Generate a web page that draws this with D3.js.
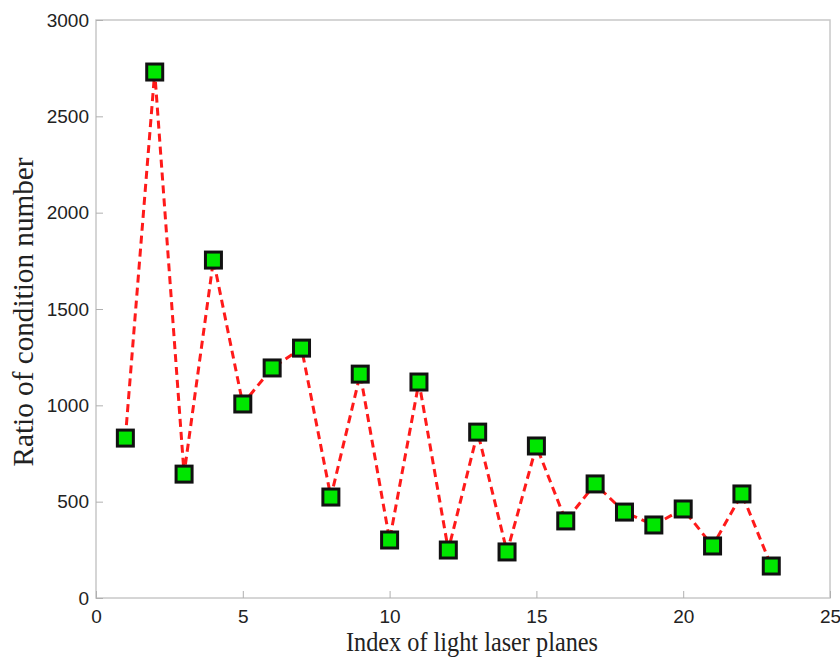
<!DOCTYPE html>
<html>
<head>
  <title>Ratio of condition number</title>
</head>
<style>
  body {
    margin: 0;
    background: white;
  }
  .tick text {
    font-family: "Liberation Sans", Arial, sans-serif;
    font-size: 19px;
    fill: #222;
  }
  .title {
    font-family: "Liberation Serif", "Times New Roman", serif;
    fill: #222;
  }
</style>
<body>
  <script src="https://d3js.org/d3.v7.min.js"></script>
  <script>
    // plane index vs ratio
    const planes = d3.range(1, 24);
    const ratio = [830, 2730, 643, 1754, 1007, 1194, 1297, 524, 1162, 301,
                   1121, 249, 861, 239, 789, 400, 592, 446, 379, 462, 270, 540, 166];
    const xTicks = [0, 5, 10, 15, 20, 25];
    const yTicks = [0, 500, 1000, 1500, 2000, 2500, 3000];

    const w = 840;
    const h = 660;
    const mLeft = 96, mRight = 830, mTop = 20, mBottom = 598;

    const svg = d3.select("body")
                  .append("svg")
                  .attr("width", w)
                  .attr("height", h);

    const x = d3.scaleLinear().domain([0, 25]).range([mLeft, mRight]);
    const y = d3.scaleLinear().domain([0, 3000]).range([mBottom, mTop]);

    // frame
    svg.append("rect")
       .attr("x", mLeft)
       .attr("y", mTop)
       .attr("width", mRight - mLeft)
       .attr("height", mBottom - mTop)
       .attr("fill", "none")
       .attr("stroke", "#c8c8c8")
       .attr("stroke-width", 1.5);

    const xAxis = svg.append("g")
       .attr("transform", "translate(0," + mBottom + ")")
       .call(d3.axisBottom(x).tickValues(xTicks).tickFormat(d3.format("d"))
             .tickSize(-7).tickPadding(12));
    const yAxis = svg.append("g")
       .attr("transform", "translate(" + mLeft + ",0)")
       .call(d3.axisLeft(y).tickValues(yTicks).tickFormat(d3.format("d"))
             .tickSize(-7).tickPadding(7));

    [xAxis, yAxis].forEach(a => {
      a.select(".domain").remove();
      a.selectAll(".tick line").attr("stroke", "#b0b0b0").attr("stroke-width", 1);
    });

    // dashed line
    const line = d3.line()
                   .x((d, i) => x(planes[i]))
                   .y(d => y(d));
    svg.append("path")
       .datum(ratio)
       .attr("d", line)
       .attr("fill", "none")
       .attr("stroke", "#ff1a1a")
       .attr("stroke-width", 3)
       .attr("stroke-dasharray", "8,5");

    // square markers
    const s = 16;
    svg.selectAll("rect.marker")
       .data(ratio)
       .join("rect")
       .attr("class", "marker")
       .attr("x", (d, i) => x(planes[i]) - s / 2)
       .attr("y", d => y(d) - s / 2)
       .attr("width", s)
       .attr("height", s)
       .attr("fill", "#00e600")
       .attr("stroke", "#111")
       .attr("stroke-width", 3);

    svg.append("text")
       .attr("class", "title")
       .attr("x", 472)
       .attr("y", 651)
       .attr("text-anchor", "middle")
       .style("font-size", "27px")
       .attr("textLength", 252)
       .attr("lengthAdjust", "spacingAndGlyphs")
       .text("Index of light laser planes");

    svg.append("text")
       .attr("class", "title")
       .attr("transform", "translate(33,312) rotate(-90)")
       .attr("text-anchor", "middle")
       .style("font-size", "29px")
       .attr("textLength", 309)
       .attr("lengthAdjust", "spacingAndGlyphs")
       .text("Ratio of condition number");
  </script>
</body>
</html>
